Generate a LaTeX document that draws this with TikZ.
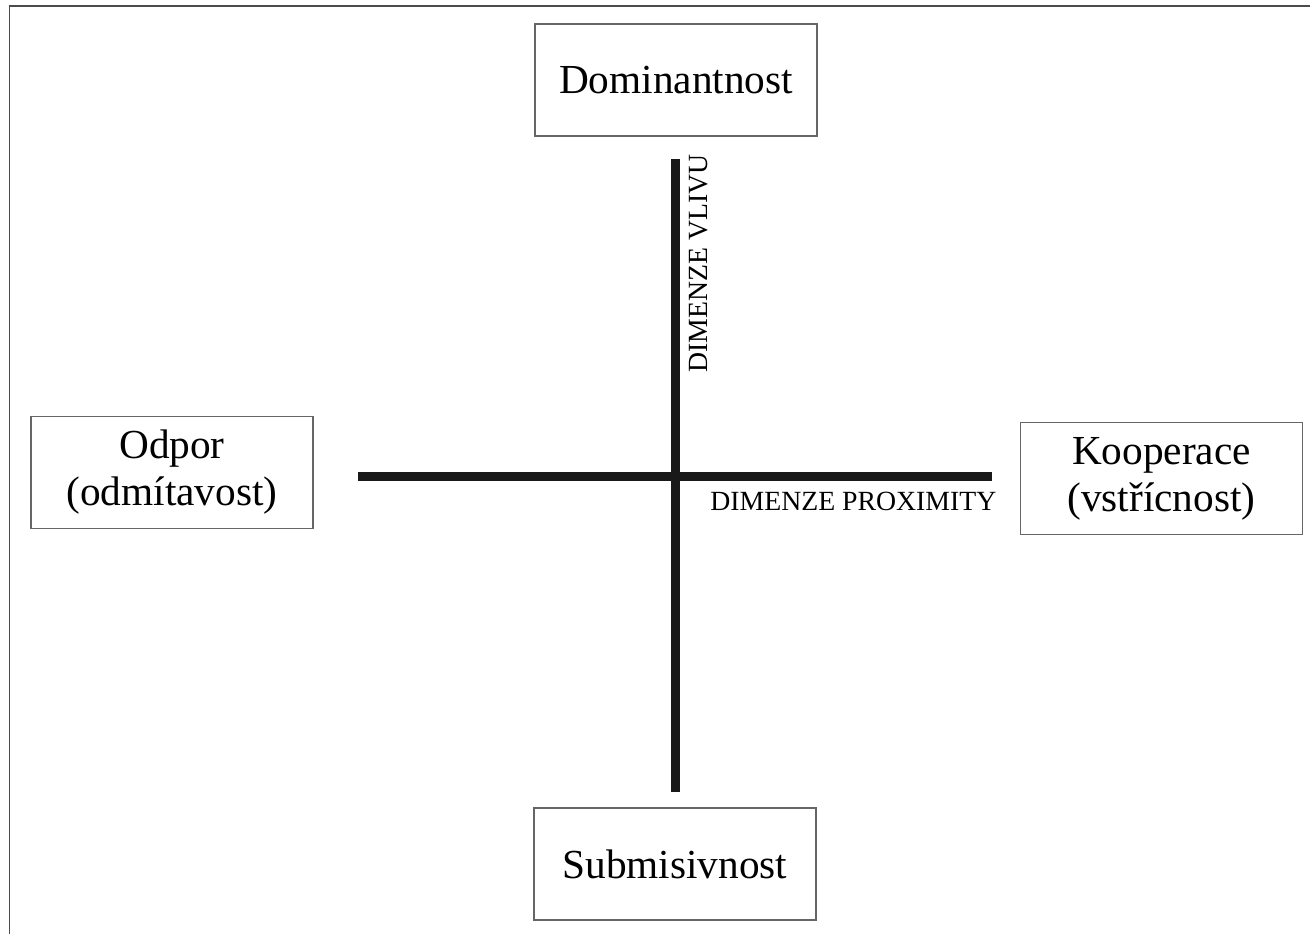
\documentclass[tikz,border=0pt]{standalone}
\usepackage{fontspec}
\setmainfont{Liberation Serif}
\usetikzlibrary{positioning}
\tikzset{%
	every pole/.style={
		draw=black!60,
		line width=0.8pt,
		minimum width=5.64cm,
		minimum height=2.24cm,
		inner sep=0pt,
		align=center,
		font=\fontsize{23.5}{26.7}\selectfont
	},
	dimension bar/.style={
		draw=black!90,
		line width=0.18cm
	},
	dimension label/.style={
		inner sep=0pt,
		font=\fontsize{15.8}{18}\selectfont
	},
}
\begin{document}
\begin{tikzpicture}[x=0.02cm, y=-0.02cm]
	\useasboundingbox (0,0) rectangle (1310,934);
	
	\draw[black!70, line width=0.04cm] (9.5,934) -- (9.5,5.5) -- (1310,5.5);
	
	\node[every pole] (dominant) at (676,80) {Dominantnost};
	\node[every pole] (submis) at (675,864) {Submisivnost};
	\node[every pole] (odpor) at (172,472.5) {Odpor\\(odmítavost)};
	\node[every pole] (koop) at (1161.5,478.5) {Kooperace\\(vstřícnost)};
	
	\coordinate (vliv top) at (675.5,159);
	\coordinate (vliv bottom) at (675.5,792);
	\coordinate (prox left) at (358,476);
	\coordinate (prox right) at (992,476);
	
	\draw[dimension bar] (vliv top) -- (vliv bottom);
	\draw[dimension bar] (prox left) -- (prox right);
	
	\node[dimension label, anchor=base west] (prox label) at (710,510) {DIMENZE PROXIMITY};
	\node[dimension label, rotate=90, anchor=base west] (vliv label) at (707.5,373) {DIMENZE VLIVU};
	
\end{tikzpicture}
\end{document}
